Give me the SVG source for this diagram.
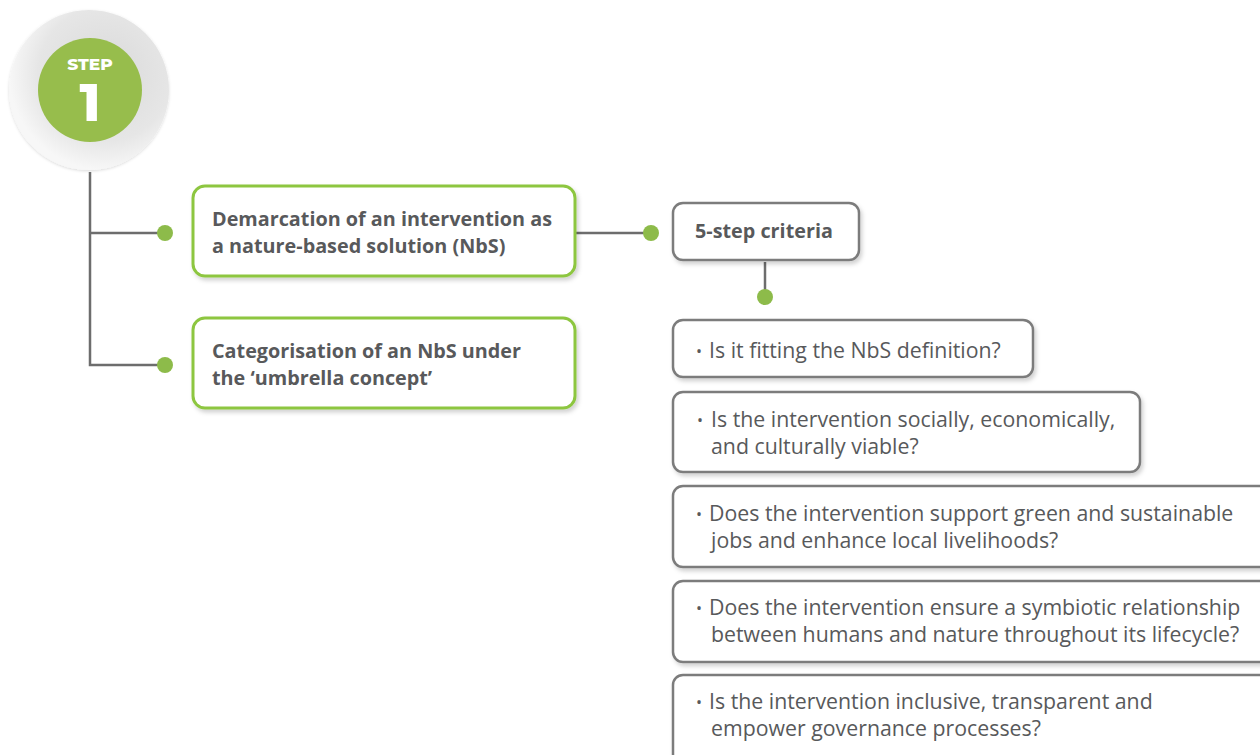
<svg xmlns="http://www.w3.org/2000/svg" width="1260" height="755" viewBox="0 0 1260 755">
<defs>
<filter id="sh" x="-10%" y="-20%" width="120%" height="150%">
<feDropShadow dx="2" dy="3" stdDeviation="2" flood-color="#000" flood-opacity="0.18"/>
</filter>
<radialGradient id="outer" cx="0.6" cy="0.4" r="0.6">
<stop offset="0" stop-color="#d9d9d9"/>
<stop offset="0.7" stop-color="#e6e6e6"/>
<stop offset="1" stop-color="#f7f7f7"/>
</radialGradient>
<filter id="csh" x="-20%" y="-20%" width="140%" height="140%">
<feDropShadow dx="0" dy="1" stdDeviation="1.5" flood-color="#000" flood-opacity="0.15"/>
</filter>
</defs>
<style>
.gbox{fill:#fff;stroke:#8dc63f;stroke-width:3}
.kbox{fill:#fff;stroke:#7b7b7b;stroke-width:2.5}
.ln{stroke:#6d6d6d;stroke-width:2.5;fill:none}
.dot{fill:#8dbb4a}
.bt{font-family:"Open Sans","Liberation Sans",sans-serif;font-weight:700;font-size:19.8px;fill:#58595b}
.rt{font-family:"Open Sans","Liberation Sans",sans-serif;font-size:21.3px;fill:#58595b}
.bl{font-family:"Open Sans","Liberation Sans",sans-serif;font-size:16px;fill:#58595b}
</style>
<rect width="1260" height="755" fill="#fff"/>
<g id="step">
<circle cx="89" cy="90" r="80" fill="url(#outer)" filter="url(#csh)"/>
<circle cx="90" cy="90" r="52" fill="#97bd4c"/>
<text x="90" y="70" text-anchor="middle" font-family="Montserrat,'Open Sans','Liberation Sans',sans-serif" font-weight="800" font-size="17" fill="#fff">STEP</text>
<text x="90" y="121" text-anchor="middle" font-family="Montserrat,'Open Sans','Liberation Sans',sans-serif" font-weight="800" font-size="52" fill="#fff">1</text>
</g>
<g id="connectors">
<path class="ln" d="M90 172 V365 H165 M90 233 H165"/>
<path class="ln" d="M575 233 H651"/>
<path class="ln" d="M765 262 V297"/>
<circle class="dot" cx="165" cy="233" r="8"/>
<circle class="dot" cx="165" cy="365" r="8"/>
<circle class="dot" cx="651" cy="233" r="8"/>
<circle class="dot" cx="765" cy="297" r="8"/>
</g>
<g id="n-demarcation">
<rect class="gbox" x="193" y="186" width="382" height="90" rx="12" filter="url(#sh)"/>
<text class="bt" x="212" y="226">Demarcation of an intervention as</text>
<text class="bt" x="212" y="253">a nature-based solution (NbS)</text>
</g>
<g id="n-categorisation">
<rect class="gbox" x="193" y="318" width="382" height="90" rx="12" filter="url(#sh)"/>
<text class="bt" x="212" y="358">Categorisation of an NbS under</text>
<text class="bt" x="212" y="385">the ‘umbrella concept’</text>
</g>
<g id="n-criteria">
<rect class="kbox" x="673" y="203" width="186" height="57" rx="10" filter="url(#sh)"/>
<text class="bt" x="695" y="238">5-step criteria</text>
</g>
<g id="c1">
<rect class="kbox" x="673" y="320" width="360" height="57" rx="10" filter="url(#sh)"/>
<text class="bl" x="696" y="357">•</text>
<text class="rt" x="709" y="358">Is it fitting the NbS definition?</text>
</g>
<g id="c2">
<rect class="kbox" x="673" y="392" width="467" height="80" rx="10" filter="url(#sh)"/>
<text class="bl" x="697" y="426">•</text>
<text class="rt" x="711" y="427">Is the intervention socially, economically,</text>
<text class="rt" x="711" y="454">and culturally viable?</text>
</g>
<g id="c3">
<rect class="kbox" x="673" y="486" width="600" height="81" rx="10" filter="url(#sh)"/>
<text class="bl" x="696" y="520">•</text>
<text class="rt" x="709" y="521">Does the intervention support green and sustainable</text>
<text class="rt" x="711" y="548">jobs and enhance local livelihoods?</text>
</g>
<g id="c4">
<rect class="kbox" x="673" y="581" width="600" height="81" rx="10" filter="url(#sh)"/>
<text class="bl" x="696" y="614">•</text>
<text class="rt" x="709" y="615">Does the intervention ensure a symbiotic relationship</text>
<text class="rt" x="711" y="642">between humans and nature throughout its lifecycle?</text>
</g>
<g id="c5">
<rect class="kbox" x="673" y="675" width="600" height="95" rx="10" filter="url(#sh)"/>
<text class="bl" x="696" y="708">•</text>
<text class="rt" x="709" y="709">Is the intervention inclusive, transparent and</text>
<text class="rt" x="711" y="736">empower governance processes?</text>
</g>
</svg>
